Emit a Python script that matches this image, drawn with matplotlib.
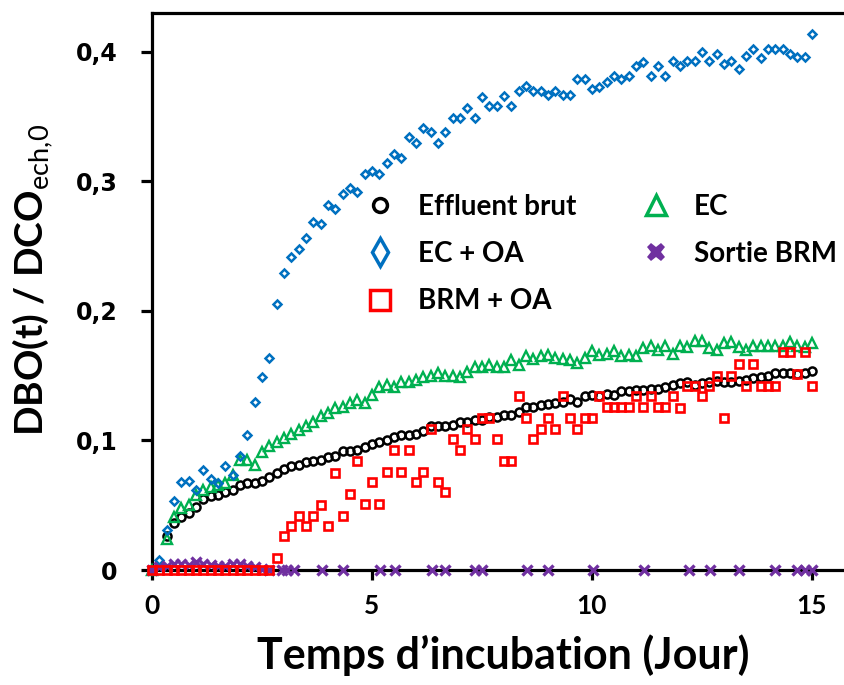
import numpy as np
import matplotlib
matplotlib.use("Agg")
import matplotlib.pyplot as plt
from matplotlib.lines import Line2D

nan = np.nan

# time axis: one reading every 4 h (days)
t_days = np.arange(91) / 6

effluent_brut = [0.000, nan, 0.026, 0.036, 0.041, 0.044, 0.049, 0.055, 0.057, 0.058,
                 0.060, 0.062, 0.066, 0.067, 0.067, 0.069, 0.072, 0.075, 0.078, 0.080,
                 0.081, 0.083, 0.084, 0.085, 0.087, 0.088, 0.092, 0.092, 0.093, 0.095,
                 0.097, 0.099, 0.100, 0.103, 0.104, 0.104, 0.105, 0.107, 0.111, 0.111,
                 0.111, 0.112, 0.114, 0.114, 0.116, 0.116, 0.118, 0.118, 0.120, 0.120,
                 0.122, 0.126, 0.126, 0.127, 0.128, 0.129, 0.130, 0.132, 0.130, 0.134,
                 0.135, 0.134, 0.136, 0.135, 0.138, 0.138, 0.139, 0.139, 0.140, 0.140,
                 0.141, 0.143, 0.144, 0.145, 0.143, 0.144, 0.145, 0.146, 0.145, 0.145,
                 0.146, 0.147, 0.148, 0.149, 0.150, 0.152, 0.152, 0.152, 0.151, 0.152,
                 0.154]

ec = [0.000, nan, 0.024, 0.041, 0.048, 0.050, 0.058, 0.062, 0.064, 0.066,
      0.067, 0.073, 0.085, 0.085, 0.081, 0.091, 0.096, 0.099, 0.102, 0.105,
      0.108, 0.111, 0.114, 0.119, 0.121, 0.125, 0.126, 0.129, 0.131, 0.129,
      0.135, 0.141, 0.143, 0.141, 0.145, 0.145, 0.147, 0.149, 0.150, 0.152,
      0.150, 0.150, 0.149, 0.153, 0.157, 0.157, 0.158, 0.157, 0.157, 0.162,
      0.158, 0.165, 0.163, 0.165, 0.166, 0.164, 0.163, 0.162, 0.160, 0.164,
      0.169, 0.166, 0.167, 0.169, 0.165, 0.166, 0.165, 0.171, 0.173, 0.170,
      0.173, 0.167, 0.173, 0.172, 0.177, 0.177, 0.171, 0.170, 0.175, 0.176,
      0.172, 0.170, 0.173, 0.173, 0.173, 0.173, 0.173, 0.176, 0.173, 0.172,
      0.175]

ec_oa = [0.000, 0.008, 0.031, 0.053, 0.068, 0.069, 0.062, 0.077, 0.070, 0.067,
         0.080, 0.073, 0.088, 0.104, 0.130, 0.149, 0.164, 0.205, 0.229, 0.242,
         0.248, 0.256, 0.269, 0.267, 0.282, 0.279, 0.290, 0.295, 0.292, 0.306,
         0.308, 0.306, 0.314, 0.321, 0.318, 0.334, 0.330, 0.341, 0.338, 0.330,
         0.338, 0.349, 0.349, 0.357, 0.349, 0.365, 0.358, 0.358, 0.366, 0.358,
         0.370, 0.374, 0.370, 0.370, 0.367, 0.370, 0.367, 0.367, 0.379, 0.379,
         0.371, 0.373, 0.377, 0.381, 0.379, 0.381, 0.389, 0.392, 0.381, 0.389,
         0.381, 0.393, 0.389, 0.393, 0.393, 0.400, 0.393, 0.398, 0.391, 0.393,
         0.387, 0.397, 0.402, 0.395, 0.402, 0.402, 0.402, 0.398, 0.396, 0.396,
         0.414]

brm_oa = [0.000, 0.000, 0.000, 0.000, 0.000, 0.000, 0.000, 0.000, 0.000, 0.000,
          0.000, 0.000, 0.000, 0.000, 0.000, 0.000, 0.000, 0.009, 0.026, 0.034,
          0.042, 0.034, 0.042, 0.050, 0.034, 0.075, 0.042, 0.059, 0.084, 0.051,
          0.068, 0.051, 0.076, 0.093, 0.076, 0.093, 0.068, 0.076, 0.109, 0.068,
          0.060, 0.101, 0.093, 0.109, 0.101, 0.117, 0.117, 0.101, 0.084, 0.084,
          0.134, 0.117, 0.101, 0.109, 0.117, 0.109, 0.134, 0.117, 0.109, 0.117,
          0.117, 0.134, 0.126, 0.126, 0.126, 0.126, 0.134, 0.126, 0.134, 0.126,
          0.126, 0.134, 0.125, 0.142, 0.142, 0.134, 0.142, 0.150, 0.117, 0.150,
          0.159, 0.142, 0.159, 0.142, 0.142, 0.142, 0.168, 0.168, 0.151, 0.168,
          0.142]

sortie_t = [0.00, 0.17, 0.33, 0.50, 0.67, 0.83, 1.00, 1.17, 1.33, 1.50,
            1.67, 1.83, 2.00, 2.17, 2.33, 2.50, 2.67, 2.95, 3.07, 3.22,
            3.86, 4.35, 5.19, 5.53, 6.36, 6.66, 7.35, 7.50, 8.52, 9.01,
            10.02, 11.19, 12.20, 12.69, 13.35, 14.17, 14.66, 14.85, 15.00]
sortie_brm = [0.000, 0.002, 0.003, 0.005, 0.005, 0.004, 0.006, 0.005, 0.004, 0.003,
              0.003, 0.005, 0.005, 0.003, 0.002, 0.001, 0.000, 0.000, 0.000, 0.000,
              0.000, 0.000, 0.000, 0.000, 0.000, 0.000, 0.000, 0.000, 0.000, 0.000,
              0.000, 0.000, 0.000, 0.000, 0.000, 0.000, 0.000, 0.000, 0.000]

y_ticks = [0, 0.1, 0.2, 0.3, 0.4]
y_tick_labels = ["0", "0,1", "0,2", "0,3", "0,4"]
x_ticks = [0, 5, 10, 15]
x_tick_labels = ["0", "5", "10", "15"]
legend_labels = ["Effluent brut", "EC + OA", "BRM + OA", "EC", "Sortie BRM"]

BLUE = "#0070C0"
GREEN = "#00B050"
RED = "#FF0000"
PURPLE = "#7030A0"
BLACK = "#000000"

plt.rcParams["mathtext.fontset"] = "custom"
plt.rcParams["mathtext.rm"] = "Lato"
plt.rcParams["mathtext.bf"] = "Lato:bold"

fig = plt.figure(figsize=(8.45, 6.85), dpi=100)
ax = fig.add_axes([152 / 845, 115 / 685, 693 / 845, 557 / 685])

common = dict(ls="none", clip_on=False)
ax.plot(t_days, effluent_brut, marker="o", ms=5.8, mew=1.8, mfc="none", mec=BLACK, zorder=3, **common)
ax.plot(t_days, ec, marker="^", ms=7.0, mew=1.7, mfc="none", mec=GREEN, zorder=4, **common)
ax.plot(t_days, ec_oa, marker="D", ms=4.2, mew=1.8, mfc="none", mec=BLUE, zorder=5, **common)
ax.plot(sortie_t, sortie_brm, marker="x", ms=7.0, mew=2.4, color=PURPLE, zorder=6, **common)
ax.plot(t_days, brm_oa, marker="s", ms=5.3, mew=1.9, mfc="none", mec=RED, zorder=7, **common)

ax.set_xlim(0, 15.75)
ax.set_ylim(0, 0.43)
ax.spines["right"].set_visible(False)
for s in ("left", "bottom", "top"):
    ax.spines[s].set_linewidth(2.3)
    ax.spines[s].set_zorder(2)

ax.set_xticks(x_ticks)
ax.set_xticklabels(x_tick_labels, fontfamily="Lato", fontweight="bold", fontsize=19)
ax.set_yticks(y_ticks)
ax.set_yticklabels(y_tick_labels, fontfamily="DejaVu Sans", fontweight="bold", fontsize=17)
ax.tick_params(axis="x", direction="out", width=2.3, length=7, pad=10)
ax.tick_params(axis="y", direction="out", width=2.3, length=8, pad=17)

ax.set_xlabel("Temps d\u2019incubation (Jour)", fontfamily="Lato", fontweight="bold", fontsize=31)
ax.xaxis.set_label_coords(0.507, -0.115)
ax.set_ylabel(r"DBO(t) / DCO$_{\mathrm{ech{,}0}}$", fontfamily="Lato", fontweight="bold", fontsize=28)
ax.yaxis.set_label_coords(-0.14, 0.52)

handles = [
    Line2D([], [], ls="none", marker="o", ms=10, mew=2.5, mfc="none", mec=BLACK),
    Line2D([], [], ls="none", marker="d", ms=14, mew=2.5, mfc="none", mec=BLUE),
    Line2D([], [], ls="none", marker="s", ms=14, mew=2.5, mfc="none", mec=RED),
    Line2D([], [], ls="none", marker="^", ms=15, mew=2.5, mfc="none", mec=GREEN),
    Line2D([], [], ls="none", marker="X", ms=13, mew=0, mfc=PURPLE, mec=PURPLE),
]
leg = ax.legend(handles, legend_labels, ncol=2, frameon=False, loc="upper left",
                bbox_to_anchor=(0.309, 0.675), prop={"family": "Lato", "weight": "bold", "size": 20},
                handlelength=1.0, handletextpad=0.87, columnspacing=2.36, labelspacing=0.76,
                borderaxespad=0, borderpad=0)

fig.savefig("out.png", dpi=100)
